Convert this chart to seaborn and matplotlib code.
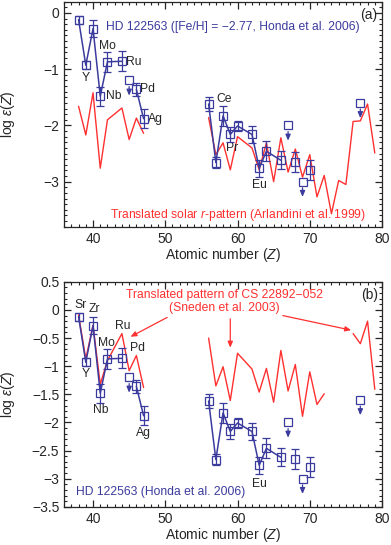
import numpy as np
import pandas as pd
import matplotlib
matplotlib.use('Agg')
import matplotlib.pyplot as plt
import seaborn as sns
from matplotlib.ticker import MultipleLocator

# HD 122563 (Honda et al. 2006) measured abundances
z_meas = [38, 39, 40, 41, 42, 44, 46, 47, 56, 57, 58, 59, 60, 62, 63, 64, 66, 68, 70]
eps_meas = [-0.12, -0.93, -0.28, -1.48, -0.87, -0.86, -1.36, -1.88,
            -1.62, -2.66, -1.83, -2.16, -2.01, -2.16, -2.76, -2.46, -2.62, -2.65, -2.79]
err_meas = [0.07, 0.07, 0.15, 0.17, 0.18, 0.18, 0.12, 0.17,
            0.12, 0.10, 0.18, 0.13, 0.09, 0.15, 0.15, 0.18, 0.16, 0.18, 0.18]
# which points are joined by the blue line
seg_meas = [1, 1, 1, 1, 1, 1, 2, 2, 3, 3, 3, 3, 3, 3, 3, 3, 3, 0, 0]

# upper limits
z_lim = [45, 67, 69, 77]
eps_lim = [-1.20, -2.00, -3.00, -1.60]

# translated solar r-pattern (Arlandini et al. 1999)
z_sol = [38, 39, 40, 41, 42, 44, 45, 46, 47,
         56, 57, 58, 59, 60, 62, 63, 64, 65, 66, 67, 68, 69, 70, 71, 72, 73, 74, 75, 76, 77, 78, 79]
eps_sol = [-1.66, -2.17, -1.42, -2.76, -1.90, -1.69, -2.25, -1.87, -2.14,
           -1.86, -2.52, -2.31, -2.79, -2.20, -2.40, -2.79, -2.31, -3.00, -2.22, -2.83, -2.42, -2.92,
           -2.52, -3.27, -2.89, -3.57, -2.98, -3.05, -1.93, -1.92, -1.62, -2.49]
grp_sol = [1] * 9 + [2] * 23

# translated pattern of CS 22892-052 (Sneden et al. 2003)
z_cs = [38, 39, 40, 41, 42, 44, 45, 46, 47,
        56, 57, 58, 59, 60, 62, 63, 64, 65, 66, 67, 68, 69, 70, 71, 72,
        76, 77, 78, 79]
eps_cs = [-0.09, -0.87, -0.27, -1.32, -0.90, -0.42, -1.08, -0.81, -1.38,
          -0.50, -1.35, -1.01, -1.61, -0.77, -1.05, -1.46, -1.04, -1.64, -0.72, -1.44, -0.97, -1.89,
          -1.10, -1.68, -1.49,
          -0.42, -0.60, -0.20, -1.41]
grp_cs = [1] * 9 + [2] * 16 + [3] * 4

labels_a = {'Y': (39.0, -1.15), 'Mo': (42.0, -0.58), 'Ru': (45.6, -0.87), 'Nb': (42.8, -1.48),
            'Pd': (47.6, -1.35), 'Ag': (48.6, -1.88), 'Ce': (58.1, -1.53), 'Pr': (59.2, -2.40),
            'Eu': (63.1, -3.06)}
labels_b = {'Sr': (38.2, 0.08), 'Zr': (40.2, 0.01), 'Y': (39.0, -1.14), 'Mo': (41.9, -0.58),
            'Ru': (44.1, -0.29), 'Pd': (46.1, -0.67), 'Nb': (41.1, -1.77), 'Ag': (47.0, -2.19),
            'Eu': (63.1, -3.09)}

blue = '#3b3b9e'
red = '#ff3030'

sns.set_style('ticks')
plt.rcParams['font.family'] = ['Liberation Sans', 'DejaVu Sans']
plt.rcParams['mathtext.fontset'] = 'custom'
plt.rcParams['mathtext.rm'] = 'Liberation Sans'
plt.rcParams['mathtext.it'] = 'Liberation Sans:italic'

meas = pd.DataFrame({'Z': z_meas, 'eps': eps_meas, 'err': err_meas, 'seg': seg_meas})
sol = pd.DataFrame({'Z': z_sol, 'eps': eps_sol, 'grp': grp_sol})
cs = pd.DataFrame({'Z': z_cs, 'eps': eps_cs, 'grp': grp_cs})

fig, axes = plt.subplots(2, 1, figsize=(3.91, 5.45), dpi=100)
plt.subplots_adjust(left=0.164, right=0.977, top=0.997, bottom=0.070, hspace=0.245)

fs_note = 8.7


def draw_star(ax):
    joined = meas[meas['seg'] > 0]
    sns.lineplot(data=joined, x='Z', y='eps', units='seg', estimator=None,
                 color=blue, lw=1.1, ax=ax)
    ax.errorbar(meas['Z'], meas['eps'], yerr=meas['err'], fmt='s', ms=5.5,
                mfc='none', mec=blue, mew=0.9, ecolor=blue, elinewidth=0.9,
                capsize=2.8, capthick=0.9, zorder=4)
    ax.plot(z_lim, eps_lim, 's', ms=5.5, mfc='none', mec=blue, mew=0.9, zorder=4)
    for z, e in zip(z_lim, eps_lim):
        ax.annotate('', xy=(z, e - 0.32), xytext=(z, e - 0.06),
                    arrowprops=dict(arrowstyle='-|>,head_width=0.15,head_length=0.35',
                                    color=blue, lw=0.9))


def style_axes(ax, ylim):
    ax.set_xlim(36, 80)
    ax.set_ylim(*ylim)
    ax.xaxis.set_major_locator(MultipleLocator(10))
    ax.xaxis.set_minor_locator(MultipleLocator(1))
    ax.yaxis.set_minor_locator(MultipleLocator(0.1))
    ax.tick_params(which='both', direction='in', top=True, right=True, labelsize=10)
    ax.tick_params(which='major', length=5, width=0.9)
    ax.tick_params(which='minor', length=2.5, width=0.8)
    for sp in ax.spines.values():
        sp.set_linewidth(0.9)
    ax.set_xlabel('Atomic number ($\\mathit{Z}$)', fontsize=10)
    ax.set_ylabel('log $\\varepsilon$($\\mathit{Z}$)', fontsize=10)
    ax.xaxis.set_label_coords(0.5, -0.085)
    ax.yaxis.set_label_coords(-0.148, 0.5)


# panel (a)
ax = axes[0]
sns.lineplot(data=sol, x='Z', y='eps', units='grp', estimator=None, color=red, lw=1.0, ax=ax)
draw_star(ax)
style_axes(ax, (-3.8, 0.2))
ax.yaxis.set_major_locator(MultipleLocator(1))
ax.text(41.8, -0.25, 'HD 122563 ([Fe/H] = \u22122.77, Honda et al. 2006)', color=blue,
        fontsize=fs_note, va='center')
ax.text(79.4, -0.03, '(a)', fontsize=10, ha='right', va='center')
ax.text(42.3, -3.6, 'Translated solar $\\mathit{r}$-pattern (Arlandini et al. 1999)',
        color=red, fontsize=fs_note, va='center')
for name, (x, y) in labels_a.items():
    ax.text(x, y, name, fontsize=fs_note, ha='center', va='center')

# panel (b)
ax = axes[1]
sns.lineplot(data=cs, x='Z', y='eps', units='grp', estimator=None, color=red, lw=1.0, ax=ax)
draw_star(ax)
style_axes(ax, (-3.5, 0.5))
ax.yaxis.set_major_locator(MultipleLocator(0.5))
ax.yaxis.set_major_formatter(plt.FuncFormatter(lambda v, p: f'{v:g}'.replace('-', '\u2212')))
ax.text(58.2, 0.265, 'Translated pattern of CS 22892\u2212052', color=red, fontsize=fs_note,
        ha='center', va='center')
ax.text(58.2, 0.03, '(Sneden et al. 2003)', color=red, fontsize=fs_note, ha='center', va='center')
ax.text(79.4, 0.26, '(b)', fontsize=10, ha='right', va='center')
ax.text(37.7, -3.24, 'HD 122563 (Honda et al. 2006)', color=blue, fontsize=fs_note, va='center')
arrow_kw = dict(arrowstyle='-|>,head_width=0.15,head_length=0.35', color=red, lw=0.9)
ax.annotate('', xy=(44.85, -0.50), xytext=(50.6, -0.11), arrowprops=arrow_kw)
ax.annotate('', xy=(59.0, -0.72), xytext=(59.0, -0.11), arrowprops=arrow_kw)
ax.annotate('', xy=(76.1, -0.37), xytext=(65.9, -0.09), arrowprops=arrow_kw)
for name, (x, y) in labels_b.items():
    ax.text(x, y, name, fontsize=fs_note, ha='center', va='center')

plt.savefig('out.png', dpi=100)
